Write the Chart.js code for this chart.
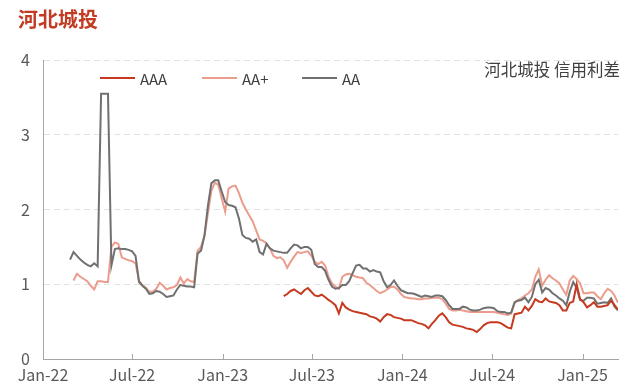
<!DOCTYPE html>
<html>
<head>
<meta charset="utf-8">
<script src="https://cdn.jsdelivr.net/npm/chart.js@4"></script>
<style>
body { margin: 0; background: #fff; }
#wrap { position: relative; width: 640px; height: 392px; }
#title { position: absolute; left: 18px; top: 4px; font: bold 20px "Noto Sans CJK SC"; color: #c23b22; }
#note { position: absolute; right: 20px; top: 57px; font: 16.5px "Noto Sans CJK SC"; color: #404040; }
</style>
</head>
<body>
<div id="wrap">
  <canvas id="canvas" width="640" height="392"></canvas>
  <div id="title">河北城投</div>
  <div id="note">河北城投 信用利差</div>
</div>
<script>
// weekly credit spread (%), first week 2022-02-25
var firstDay = 55; // days after 2022-01-01
var aaaStartWeek = 62;
var aaPlusStartWeek = 1;

var aa = [1.33,1.43,1.38,1.33,1.29,1.26,1.24,1.28,1.24,3.55,
  3.55,3.55,1.25,1.47,1.48,1.47,1.47,1.46,1.44,1.38,
  1.03,0.98,0.94,0.87,0.88,0.91,0.90,0.87,0.83,0.84,
  0.85,0.93,0.99,0.98,0.97,0.97,0.96,1.41,1.45,1.65,
  2.05,2.35,2.39,2.39,2.24,2.10,2.06,2.05,2.03,1.88,
  1.66,1.62,1.61,1.57,1.60,1.43,1.40,1.54,1.48,1.45,
  1.44,1.43,1.42,1.42,1.48,1.53,1.52,1.48,1.50,1.50,
  1.46,1.27,1.23,1.23,1.18,1.06,0.97,0.94,0.95,0.99,
  0.99,1.04,1.15,1.25,1.26,1.21,1.21,1.17,1.19,1.17,
  1.16,1.04,0.96,0.99,1.05,0.98,0.92,0.90,0.88,0.88,
  0.87,0.85,0.83,0.85,0.84,0.83,0.85,0.85,0.84,0.79,
  0.72,0.67,0.67,0.67,0.70,0.69,0.66,0.65,0.65,0.66,
  0.68,0.69,0.69,0.68,0.64,0.63,0.63,0.61,0.62,0.76,
  0.78,0.79,0.82,0.76,0.83,1.00,1.06,0.89,0.95,0.93,
  0.88,0.85,0.81,0.78,0.72,0.90,1.03,0.95,0.79,0.78,
  0.82,0.82,0.81,0.74,0.75,0.76,0.75,0.81,0.70,0.65];

var aaPlus = [1.05,1.14,1.10,1.07,1.04,0.98,0.93,1.04,1.04,
  1.03,1.03,1.50,1.56,1.54,1.36,1.34,1.32,1.31,1.28,
  1.05,0.99,0.95,0.90,0.90,0.94,1.02,0.98,0.93,0.95,
  0.96,0.99,1.09,1.01,1.07,1.04,1.03,1.45,1.50,1.65,
  1.95,2.25,2.36,2.33,2.15,1.97,2.28,2.31,2.32,2.22,
  2.09,2.00,1.92,1.84,1.72,1.60,1.58,1.55,1.48,1.38,
  1.35,1.36,1.32,1.22,1.30,1.37,1.43,1.42,1.43,1.44,
  1.38,1.30,1.27,1.30,1.25,1.10,1.01,0.97,0.94,1.10,
  1.13,1.14,1.12,1.10,1.09,1.08,1.02,0.99,0.95,0.91,
  0.88,0.90,0.93,0.96,0.97,0.93,0.87,0.83,0.82,0.81,
  0.81,0.80,0.80,0.81,0.81,0.82,0.82,0.82,0.80,0.74,
  0.67,0.65,0.65,0.66,0.65,0.64,0.63,0.63,0.63,0.63,
  0.63,0.63,0.63,0.63,0.62,0.61,0.60,0.59,0.61,0.75,
  0.79,0.81,0.85,0.88,0.93,1.10,1.20,0.98,1.06,1.12,
  1.08,1.05,1.01,0.93,0.86,1.05,1.11,1.07,1.01,0.88,
  0.88,0.89,0.89,0.84,0.80,0.88,0.94,0.91,0.85,0.75];

var aaa = [0.84,0.87,0.91,0.93,0.90,0.87,0.92,0.95,
  0.90,0.85,0.84,0.86,0.83,0.79,0.76,0.72,0.61,0.75,
  0.69,0.66,0.64,0.63,0.62,0.61,0.60,0.57,0.56,0.54,
  0.50,0.56,0.60,0.59,0.56,0.55,0.54,0.52,0.52,0.52,
  0.50,0.48,0.47,0.45,0.41,0.47,0.52,0.58,0.61,0.56,
  0.49,0.46,0.45,0.44,0.43,0.41,0.40,0.39,0.36,0.40,
  0.45,0.48,0.49,0.49,0.49,0.48,0.45,0.42,0.41,0.60,
  0.61,0.62,0.70,0.65,0.71,0.80,0.77,0.76,0.81,0.77,
  0.76,0.75,0.72,0.65,0.65,0.75,0.77,1.00,0.80,0.76,
  0.69,0.72,0.76,0.70,0.70,0.71,0.72,0.78,0.72,0.66];

var tickDays = [0, 181, 365, 546, 730, 912, 1096];
var tickLabels = ['Jan-22', 'Jul-22', 'Jan-23', 'Jul-23', 'Jan-24', 'Jul-24', 'Jan-25'];

function weekly(values, startWeek) {
    return values.map(function (v, i) {
        return { x: firstDay + 7 * (startWeek + i), y: v };
    });
}
var lastDay = firstDay + 7 * (aa.length - 1);

var insideLegend = {
    id: 'insideLegend',
    afterDraw: function (chart) {
        var ctx = chart.ctx, area = chart.chartArea;
        var offsets = [57, 159, 259];
        ctx.save();
        ctx.font = '15px "Noto Sans CJK SC"';
        ctx.textBaseline = 'middle';
        chart.data.datasets.forEach(function (ds, i) {
            var x = area.left + offsets[i], y = area.top + 18;
            ctx.strokeStyle = ds.borderColor;
            ctx.lineWidth = 2;
            ctx.beginPath();
            ctx.moveTo(x, y);
            ctx.lineTo(x + 35, y);
            ctx.stroke();
            ctx.fillStyle = '#404040';
            ctx.fillText(ds.label, x + 40, y + 1);
        });
        // small tick marks pointing up from the x axis
        var xs = chart.scales.x;
        ctx.strokeStyle = '#a6a6a6';
        ctx.lineWidth = 1;
        tickDays.forEach(function (d) {
            var px = Math.round(xs.getPixelForValue(d)) + 0.5;
            ctx.beginPath();
            ctx.moveTo(px, area.bottom);
            ctx.lineTo(px, area.bottom - 5);
            ctx.stroke();
        });
        ctx.restore();
    }
};

window.onload = function () {
    var ctx = document.getElementById('canvas').getContext('2d');
    window.myLine = new Chart(ctx, {
        type: 'line',
        data: {
            datasets: [{
                label: 'AAA',
                data: weekly(aaa, aaaStartWeek),
                borderColor: '#c63b1f',
                order: 0
            }, {
                label: 'AA+',
                data: weekly(aaPlus, aaPlusStartWeek),
                borderColor: '#eb9c8c',
                order: 2
            }, {
                label: 'AA',
                data: weekly(aa, 0),
                borderColor: '#707070',
                order: 1
            }]
        },
        options: {
            responsive: false,
            animation: false,
            layout: { padding: { top: 60, right: 22, left: 0, bottom: 0 } },
            elements: {
                line: { borderWidth: 2, tension: 0, fill: false },
                point: { radius: 0 }
            },
            plugins: {
                legend: { display: false },
                tooltip: { enabled: false }
            },
            scales: {
                x: {
                    type: 'linear',
                    min: 0,
                    max: lastDay,
                    afterBuildTicks: function (scale) {
                        scale.ticks = tickDays.map(function (d) { return { value: d }; });
                    },
                    afterFit: function (scale) { scale.height = 33; },
                    ticks: {
                        autoSkip: false,
                        maxRotation: 0,
                        padding: 6,
                        color: '#595959',
                        font: { family: 'Noto Sans CJK SC', size: 16 },
                        callback: function (value) {
                            return tickLabels[tickDays.indexOf(value)];
                        }
                    },
                    grid: { drawOnChartArea: false, drawTicks: false },
                    border: { color: '#a6a6a6', width: 1 }
                },
                y: {
                    min: 0,
                    max: 4,
                    afterFit: function (scale) { scale.width = 43; },
                    ticks: {
                        stepSize: 1,
                        padding: 13,
                        color: '#595959',
                        font: { family: 'Noto Sans CJK SC', size: 16 }
                    },
                    grid: { color: '#e3e3e3', drawTicks: false },
                    border: { color: '#a6a6a6', width: 1, dash: [6, 4] }
                }
            }
        },
        plugins: [insideLegend]
    });
};
</script>
</body>
</html>
